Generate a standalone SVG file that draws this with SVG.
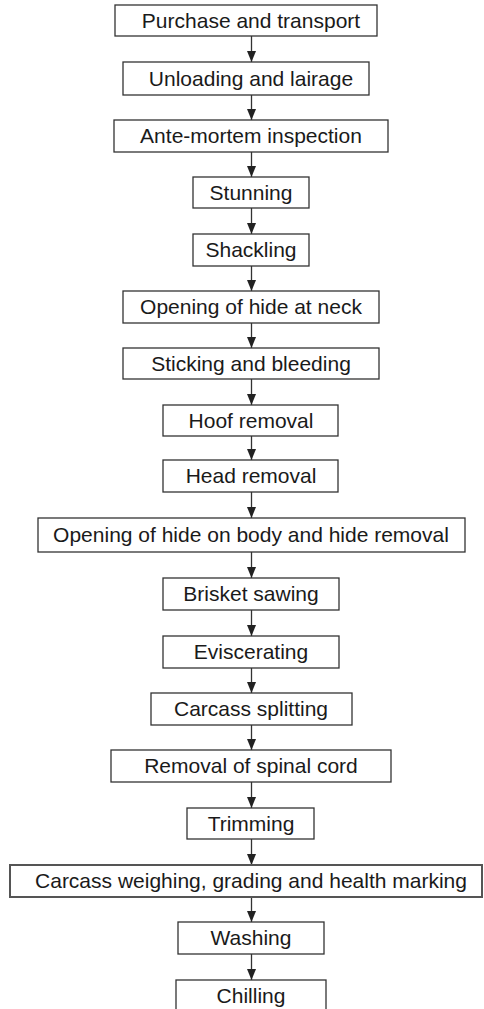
<svg xmlns="http://www.w3.org/2000/svg" width="484" height="1009" viewBox="0 0 484 1009">
<style>
.box{fill:#fff;stroke:#333;stroke-width:1.3}
.box2{fill:#fff;stroke:#555;stroke-width:2}
.t{font-family:"Liberation Sans",Arial,sans-serif;font-size:21px;fill:#1a1a1a;text-anchor:middle}
.c{stroke:#333;stroke-width:1.3;fill:none}
</style>
<defs>
<marker id="ah" markerUnits="userSpaceOnUse" markerWidth="11" markerHeight="9" refX="11" refY="4.5" orient="auto" viewBox="0 0 11 9">
<path d="M0,0 L11,4.5 L0,9 Z" fill="#222"/>
</marker>
</defs>
<g id="connectors">
<line class="c" x1="251.5" y1="36" x2="251.5" y2="62" marker-end="url(#ah)"/>
<line class="c" x1="251.5" y1="95" x2="251.5" y2="120" marker-end="url(#ah)"/>
<line class="c" x1="251.5" y1="152" x2="251.5" y2="177" marker-end="url(#ah)"/>
<line class="c" x1="251.5" y1="208" x2="251.5" y2="234" marker-end="url(#ah)"/>
<line class="c" x1="251.5" y1="266" x2="251.5" y2="291" marker-end="url(#ah)"/>
<line class="c" x1="251.5" y1="323" x2="251.5" y2="348" marker-end="url(#ah)"/>
<line class="c" x1="251.5" y1="379" x2="251.5" y2="405" marker-end="url(#ah)"/>
<line class="c" x1="251.5" y1="436" x2="251.5" y2="460" marker-end="url(#ah)"/>
<line class="c" x1="251.5" y1="492" x2="251.5" y2="518" marker-end="url(#ah)"/>
<line class="c" x1="251.5" y1="552" x2="251.5" y2="578" marker-end="url(#ah)"/>
<line class="c" x1="251.5" y1="610" x2="251.5" y2="636" marker-end="url(#ah)"/>
<line class="c" x1="251.5" y1="668" x2="251.5" y2="693" marker-end="url(#ah)"/>
<line class="c" x1="251.5" y1="725" x2="251.5" y2="750" marker-end="url(#ah)"/>
<line class="c" x1="251.5" y1="782" x2="251.5" y2="808" marker-end="url(#ah)"/>
<line class="c" x1="251.5" y1="839" x2="251.5" y2="865" marker-end="url(#ah)"/>
<line class="c" x1="251.5" y1="897" x2="251.5" y2="922" marker-end="url(#ah)"/>
<line class="c" x1="251.5" y1="954" x2="251.5" y2="980" marker-end="url(#ah)"/>
</g>
<g id="n1"><rect class="box" x="115" y="5" width="262" height="31"/><text class="t" x="251" y="27.5">Purchase and transport</text></g>
<g id="n2"><rect class="box" x="123" y="62" width="246" height="33"/><text class="t" x="251" y="85.5">Unloading and lairage</text></g>
<g id="n3"><rect class="box" x="114" y="120" width="274" height="32"/><text class="t" x="251" y="143">Ante-mortem inspection</text></g>
<g id="n4"><rect class="box" x="193" y="177" width="116" height="31"/><text class="t" x="251" y="199.5">Stunning</text></g>
<g id="n5"><rect class="box" x="193" y="234" width="116" height="32"/><text class="t" x="251" y="257">Shackling</text></g>
<g id="n6"><rect class="box" x="123" y="291" width="256" height="32"/><text class="t" x="251" y="314">Opening of hide at neck</text></g>
<g id="n7"><rect class="box" x="123" y="348" width="256" height="31"/><text class="t" x="251" y="370.5">Sticking and bleeding</text></g>
<g id="n8"><rect class="box" x="163" y="405" width="175" height="31"/><text class="t" x="251" y="427.5">Hoof removal</text></g>
<g id="n9"><rect class="box" x="163" y="460" width="175" height="32"/><text class="t" x="251" y="483">Head removal</text></g>
<g id="n10"><rect class="box" x="38" y="518" width="427" height="34"/><text class="t" x="251" y="542">Opening of hide on body and hide removal</text></g>
<g id="n11"><rect class="box" x="163" y="578" width="176" height="32"/><text class="t" x="251" y="601">Brisket sawing</text></g>
<g id="n12"><rect class="box" x="163" y="636" width="176" height="32"/><text class="t" x="251" y="659">Eviscerating</text></g>
<g id="n13"><rect class="box" x="151" y="693" width="201" height="32"/><text class="t" x="251" y="716">Carcass splitting</text></g>
<g id="n14"><rect class="box" x="111" y="750" width="280" height="32"/><text class="t" x="251" y="773">Removal of spinal cord</text></g>
<g id="n15"><rect class="box" x="187" y="808" width="127" height="31"/><text class="t" x="251" y="830.5">Trimming</text></g>
<g id="n16"><rect class="box2" x="10" y="865" width="472" height="32"/><text class="t" x="251" y="888">Carcass weighing, grading and health marking</text></g>
<g id="n17"><rect class="box" x="178" y="922" width="146" height="32"/><text class="t" x="251" y="945">Washing</text></g>
<g id="n18"><rect class="box" x="176" y="980" width="150" height="40"/><text class="t" x="251" y="1003">Chilling</text></g>
</svg>
